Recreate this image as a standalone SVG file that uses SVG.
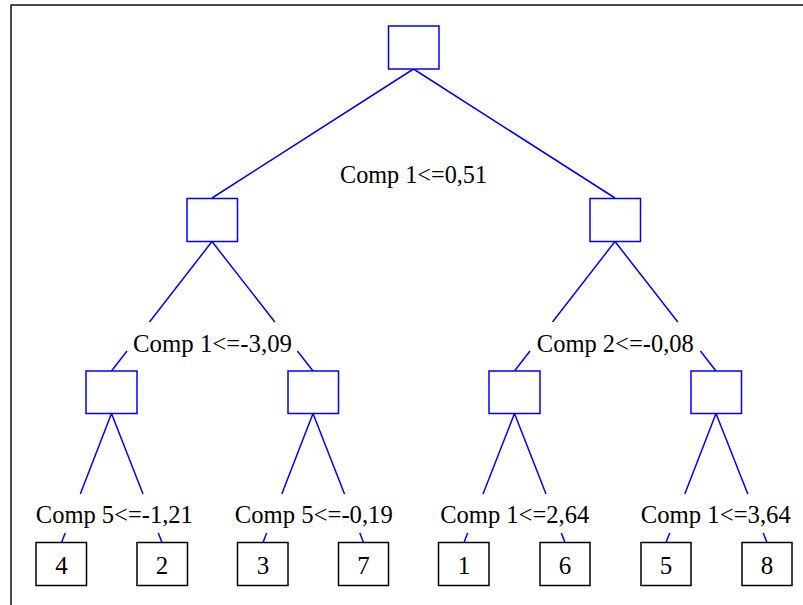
<svg xmlns="http://www.w3.org/2000/svg" width="803" height="605" viewBox="0 0 803 605">
<style>
.frame{fill:none;stroke:#111;stroke-width:1.5}
.split{fill:#fff;stroke:#0000ff;stroke-width:1.5}
.leaf{fill:#fff;stroke:#000;stroke-width:1.5}
.edge{fill:none;stroke:#0000ff;stroke-width:1.5}
text{font-family:"Liberation Serif","Times New Roman",serif;font-size:25px;fill:#000;text-anchor:middle}
</style>
<rect width="803" height="605" fill="#fff"/>
<rect class="frame" x="11" y="5" width="820" height="630"/>
<g id="connectors">
<path class="edge" d="M413.5,69 L212,198 M413.5,69 L615,198"/>
<path class="edge" d="M212,241.5 L149.5,322 M127,351 L111.5,371 M212,241.5 L274.8,322 M297.4,351 L313,371"/>
<path class="edge" d="M615,241.5 L552.5,322 M530,351 L514.5,371 M615,241.5 L677.8,322 M700.4,351 L716,371"/>
<path class="edge" d="M111.5,413.5 L80.3,494 M65.2,533 L61.5,542.5 M111.5,413.5 L143,494 M158.3,533 L162,542.5"/>
<path class="edge" d="M313,413.5 L281.8,494 M266.7,533 L263,542.5 M313,413.5 L344.5,494 M359.8,533 L363.5,542.5"/>
<path class="edge" d="M514.5,413.5 L483,494 M467.7,533 L464,542.5 M514.5,413.5 L546,494 M561.3,533 L565,542.5"/>
<path class="edge" d="M716,413.5 L684.8,494 M669.7,533 L666,542.5 M716,413.5 L747.8,494 M763.2,533 L767,542.5"/>
</g>
<g id="n0"><rect class="split" x="388.5" y="26" width="50.5" height="43"/><text x="413.5" y="182.5" textLength="147" lengthAdjust="spacingAndGlyphs">Comp 1&lt;=0,51</text></g>
<g id="n1"><rect class="split" x="187" y="198.5" width="50.5" height="43"/><text x="212.5" y="351.5" textLength="159" lengthAdjust="spacingAndGlyphs">Comp 1&lt;=-3,09</text></g>
<g id="n2"><rect class="split" x="590" y="198.5" width="50.5" height="43"/><text x="615.3" y="351.5" textLength="157" lengthAdjust="spacingAndGlyphs">Comp 2&lt;=-0,08</text></g>
<g id="n3"><rect class="split" x="86" y="371" width="51" height="42.5"/><text x="114.3" y="522.5" textLength="157" lengthAdjust="spacingAndGlyphs">Comp 5&lt;=-1,21</text></g>
<g id="n4"><rect class="split" x="288" y="371" width="50.5" height="42.5"/><text x="313.8" y="523" textLength="158" lengthAdjust="spacingAndGlyphs">Comp 5&lt;=-0,19</text></g>
<g id="n5"><rect class="split" x="489" y="371" width="51" height="42.5"/><text x="514.7" y="523" textLength="149" lengthAdjust="spacingAndGlyphs">Comp 1&lt;=2,64</text></g>
<g id="n6"><rect class="split" x="691" y="371" width="50.5" height="42.5"/><text x="715.8" y="523" textLength="150" lengthAdjust="spacingAndGlyphs">Comp 1&lt;=3,64</text></g>
<g id="leaf4"><rect class="leaf" x="36" y="542.5" width="50.5" height="43"/><text x="61.5" y="574">4</text></g>
<g id="leaf2"><rect class="leaf" x="137" y="542.5" width="50.5" height="43"/><text x="162" y="574">2</text></g>
<g id="leaf3"><rect class="leaf" x="237.5" y="542.5" width="50.5" height="43"/><text x="263" y="574">3</text></g>
<g id="leaf7"><rect class="leaf" x="338.5" y="542.5" width="50" height="43"/><text x="363.5" y="574">7</text></g>
<g id="leaf1"><rect class="leaf" x="438.5" y="542.5" width="50.5" height="43"/><text x="464" y="574">1</text></g>
<g id="leaf6"><rect class="leaf" x="540" y="542.5" width="50" height="43"/><text x="565" y="574">6</text></g>
<g id="leaf5"><rect class="leaf" x="641" y="542.5" width="50" height="43"/><text x="666" y="574">5</text></g>
<g id="leaf8"><rect class="leaf" x="742" y="542.5" width="50" height="43"/><text x="767" y="574">8</text></g>
</svg>
